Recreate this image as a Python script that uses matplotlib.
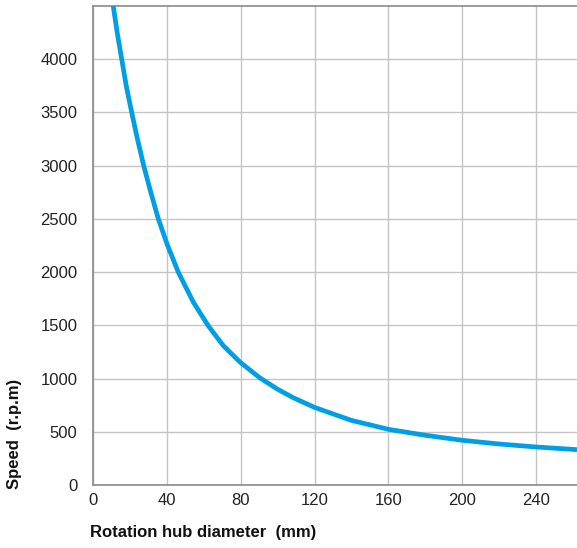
import matplotlib
matplotlib.use("Agg")
import matplotlib.pyplot as plt

# values
diameter_mm = [11.1, 13.3, 15.7, 18.2, 21.1, 24.1, 27.6, 31.3, 35.5, 40.3, 46.3,
               54.4, 62.5, 70.6, 79.8, 90.4, 100, 108.4, 120, 140, 160, 180, 200,
               220, 240, 262]
speed_rpm = [4500, 4245, 4000, 3744, 3500, 3258, 3000, 2757, 2500, 2260, 2000,
             1719, 1496, 1310, 1153, 1007, 900, 821, 729, 607, 523, 467, 420,
             385, 357, 332]

x_ticks = [0, 40, 80, 120, 160, 200, 240]
y_ticks = [0, 500, 1000, 1500, 2000, 2500, 3000, 3500, 4000]

plt.rcParams['font.family'] = ['Liberation Sans', 'DejaVu Sans']

fig = plt.figure(figsize=(5.77, 5.48), dpi=100)
ax = fig.add_axes([92.7 / 577, 1 - 485 / 548, 1 - 92.7 / 577, (485 - 6) / 548])

ax.plot(diameter_mm, speed_rpm, color='#009fe3', linewidth=3.4,
        solid_capstyle='butt', solid_joinstyle='round', zorder=3)

ax.set_xlim(0, 262)
ax.set_ylim(0, 4500)
ax.set_xticks(x_ticks)
ax.set_yticks(y_ticks)
ax.grid(True, color='#c4c4c4', linewidth=1.0)
ax.set_axisbelow(True)
ax.tick_params(length=0, labelsize=12, colors='#222222')
ax.tick_params(axis='y', pad=11)
ax.tick_params(axis='x', pad=6)

for side in ['left', 'top', 'bottom']:
    ax.spines[side].set_color('#8a8a8a')
    ax.spines[side].set_linewidth(1.2)
ax.spines['right'].set_visible(False)

fig.text(15 / 577, 1 - 489 / 548, 'Speed  (r.p.m)', rotation=90,
         ha='center', va='bottom', fontsize=12, fontweight='bold', color='#111111')
fig.text(90 / 577, 1 - 533 / 548, 'Rotation hub diameter  (mm)',
         ha='left', va='center', fontsize=12, fontweight='bold', color='#111111')

fig.savefig('out.png', dpi=100)
